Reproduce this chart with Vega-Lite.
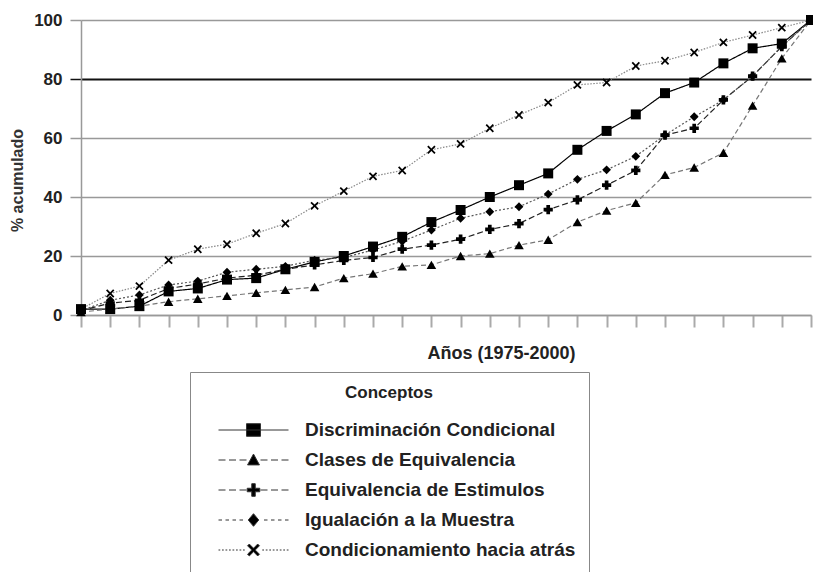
{
  "$schema": "https://vega.github.io/schema/vega-lite/v6.json",
  "width": 730,
  "height": 295,
  "autosize": "none",
  "padding": {"left": 81, "top": 20, "right": 2, "bottom": 257},
  "background": "white",
  "config": {"view": {"stroke": null}, "font": "Liberation Sans"},
  "data": {
    "values": [
      {"year": 1975, "Discriminación Condicional": 2, "Clases de Equivalencia": 1, "Equivalencia de Estimulos": 1.5, "Igualación a la Muestra": 1.5, "Condicionamiento hacia atrás": 2},
      {"year": 1976, "Discriminación Condicional": 2, "Clases de Equivalencia": 2, "Equivalencia de Estimulos": 4, "Igualación a la Muestra": 5, "Condicionamiento hacia atrás": 7.3},
      {"year": 1977, "Discriminación Condicional": 3, "Clases de Equivalencia": 3, "Equivalencia de Estimulos": 5, "Igualación a la Muestra": 6.8, "Condicionamiento hacia atrás": 9.8},
      {"year": 1978, "Discriminación Condicional": 8, "Clases de Equivalencia": 4.5, "Equivalencia de Estimulos": 9, "Igualación a la Muestra": 10.2, "Condicionamiento hacia atrás": 18.6},
      {"year": 1979, "Discriminación Condicional": 9, "Clases de Equivalencia": 5.5, "Equivalencia de Estimulos": 10.5, "Igualación a la Muestra": 11.5, "Condicionamiento hacia atrás": 22.3},
      {"year": 1980, "Discriminación Condicional": 12, "Clases de Equivalencia": 6.5, "Equivalencia de Estimulos": 12.5, "Igualación a la Muestra": 14.5, "Condicionamiento hacia atrás": 24},
      {"year": 1981, "Discriminación Condicional": 12.5, "Clases de Equivalencia": 7.5, "Equivalencia de Estimulos": 13.5, "Igualación a la Muestra": 15.5, "Condicionamiento hacia atrás": 27.7},
      {"year": 1982, "Discriminación Condicional": 15.5, "Clases de Equivalencia": 8.5, "Equivalencia de Estimulos": 15.5, "Igualación a la Muestra": 16.5, "Condicionamiento hacia atrás": 31},
      {"year": 1983, "Discriminación Condicional": 18, "Clases de Equivalencia": 9.5, "Equivalencia de Estimulos": 17, "Igualación a la Muestra": 18.6, "Condicionamiento hacia atrás": 37},
      {"year": 1984, "Discriminación Condicional": 20, "Clases de Equivalencia": 12.5, "Equivalencia de Estimulos": 18.5, "Igualación a la Muestra": 19.5, "Condicionamiento hacia atrás": 42},
      {"year": 1985, "Discriminación Condicional": 23.2, "Clases de Equivalencia": 14, "Equivalencia de Estimulos": 19.5, "Igualación a la Muestra": 22, "Condicionamiento hacia atrás": 47},
      {"year": 1986, "Discriminación Condicional": 26.5, "Clases de Equivalencia": 16.5, "Equivalencia de Estimulos": 22.3, "Igualación a la Muestra": 25, "Condicionamiento hacia atrás": 49},
      {"year": 1987, "Discriminación Condicional": 31.5, "Clases de Equivalencia": 17, "Equivalencia de Estimulos": 23.7, "Igualación a la Muestra": 28.8, "Condicionamiento hacia atrás": 56},
      {"year": 1988, "Discriminación Condicional": 35.6, "Clases de Equivalencia": 20, "Equivalencia de Estimulos": 25.7, "Igualación a la Muestra": 32.8, "Condicionamiento hacia atrás": 58},
      {"year": 1989, "Discriminación Condicional": 40, "Clases de Equivalencia": 20.8, "Equivalencia de Estimulos": 29, "Igualación a la Muestra": 35, "Condicionamiento hacia atrás": 63.3},
      {"year": 1990, "Discriminación Condicional": 44, "Clases de Equivalencia": 23.7, "Equivalencia de Estimulos": 31, "Igualación a la Muestra": 36.7, "Condicionamiento hacia atrás": 67.8},
      {"year": 1991, "Discriminación Condicional": 48, "Clases de Equivalencia": 25.5, "Equivalencia de Estimulos": 35.7, "Igualación a la Muestra": 41, "Condicionamiento hacia atrás": 72},
      {"year": 1992, "Discriminación Condicional": 56, "Clases de Equivalencia": 31.5, "Equivalencia de Estimulos": 39, "Igualación a la Muestra": 46, "Condicionamiento hacia atrás": 78},
      {"year": 1993, "Discriminación Condicional": 62.4, "Clases de Equivalencia": 35.4, "Equivalencia de Estimulos": 44, "Igualación a la Muestra": 49.2, "Condicionamiento hacia atrás": 78.8},
      {"year": 1994, "Discriminación Condicional": 68, "Clases de Equivalencia": 38, "Equivalencia de Estimulos": 49, "Igualación a la Muestra": 53.8, "Condicionamiento hacia atrás": 84.4},
      {"year": 1995, "Discriminación Condicional": 75.2, "Clases de Equivalencia": 47.5, "Equivalencia de Estimulos": 61, "Igualación a la Muestra": 61, "Condicionamiento hacia atrás": 86.2},
      {"year": 1996, "Discriminación Condicional": 78.8, "Clases de Equivalencia": 50, "Equivalencia de Estimulos": 63.3, "Igualación a la Muestra": 67.2, "Condicionamiento hacia atrás": 89},
      {"year": 1997, "Discriminación Condicional": 85.3, "Clases de Equivalencia": 55, "Equivalencia de Estimulos": 72.9, "Igualación a la Muestra": 72.9, "Condicionamiento hacia atrás": 92.4},
      {"year": 1998, "Discriminación Condicional": 90.4, "Clases de Equivalencia": 71, "Equivalencia de Estimulos": 81, "Igualación a la Muestra": 81, "Condicionamiento hacia atrás": 94.9},
      {"year": 1999, "Discriminación Condicional": 92, "Clases de Equivalencia": 87, "Equivalencia de Estimulos": 91, "Igualación a la Muestra": 91, "Condicionamiento hacia atrás": 97.4},
      {"year": 2000, "Discriminación Condicional": 100, "Clases de Equivalencia": 100, "Equivalencia de Estimulos": 100, "Igualación a la Muestra": 100, "Condicionamiento hacia atrás": 100}
    ]
  },
  "transform": [
    {"fold": ["Discriminación Condicional", "Clases de Equivalencia", "Equivalencia de Estimulos", "Igualación a la Muestra", "Condicionamiento hacia atrás"], "as": ["serie", "pct"]}
  ],
  "layer": [
    {
      "mark": {"type": "line", "strokeWidth": 1.2},
      "encoding": {
        "x": {
          "field": "year", "type": "quantitative",
          "scale": {"domain": [1975, 2000], "nice": false, "zero": false},
          "axis": {
            "title": "Años (1975-2000)",
            "values": [1975, 1976, 1977, 1978, 1979, 1980, 1981, 1982, 1983, 1984, 1985, 1986, 1987, 1988, 1989, 1990, 1991, 1992, 1993, 1994, 1995, 1996, 1997, 1998, 1999, 2000],
            "tickCount": 40,
            "labels": false, "grid": false,
            "tickColor": "#aaa", "tickSize": 12, "tickWidth": 2,
            "domainColor": "#999", "domainWidth": 1.5,
            "titleFontSize": 18, "titleFontWeight": "bold", "titleColor": "#222",
            "titleX": 420, "titleY": 43, "titleBaseline": "alphabetic"
          }
        },
        "y": {
          "field": "pct", "type": "quantitative",
          "scale": {"domain": [0, 100], "nice": false},
          "axis": {
            "title": "% acumulado",
            "values": [0, 20, 40, 60, 80, 100],
            "grid": true,
            "gridColor": {"condition": {"test": "datum.value === 80", "value": "#111"}, "value": "#999"},
            "gridWidth": {"condition": {"test": "datum.value === 80", "value": 2}, "value": 1.5},
            "tickColor": {"condition": {"test": "datum.value === 80", "value": "#111"}, "value": "#999"},
            "tickSize": 11, "tickWidth": 1.5,
            "domainColor": "#999", "domainWidth": 1.5,
            "labelFontSize": 17, "labelFontWeight": "bold", "labelColor": "#222", "labelPadding": 8,
            "titleFontSize": 16, "titleFontWeight": "bold", "titleColor": "#333",
            "titleX": -64, "titleY": 160, "titleBaseline": "middle"
          }
        },
        "color": {
          "field": "serie", "type": "nominal",
          "scale": {"domain": ["Discriminación Condicional", "Clases de Equivalencia", "Equivalencia de Estimulos", "Igualación a la Muestra", "Condicionamiento hacia atrás"], "range": ["#000000", "#777777", "#222222", "#555555", "#888888"]},
          "legend": null
        },
        "strokeDash": {
          "field": "serie", "type": "nominal",
          "scale": {"domain": ["Discriminación Condicional", "Clases de Equivalencia", "Equivalencia de Estimulos", "Igualación a la Muestra", "Condicionamiento hacia atrás"], "range": [[1, 0], [5, 3], [6, 3], [2, 2], [1.5, 1.5]]},
          "legend": null
        }
      }
    },
    {
      "mark": {"type": "point", "filled": true, "opacity": 1, "color": "black"},
      "encoding": {
        "x": {"field": "year", "type": "quantitative"},
        "y": {"field": "pct", "type": "quantitative"},
        "shape": {
          "field": "serie", "type": "nominal",
          "scale": {"domain": ["Discriminación Condicional", "Clases de Equivalencia", "Equivalencia de Estimulos", "Igualación a la Muestra", "Condicionamiento hacia atrás"], "range": ["square", "triangle-up", "cross", "diamond", "M-1,-0.7L-0.7,-1L0,-0.3L0.7,-1L1,-0.7L0.3,0L1,0.7L0.7,1L0,0.3L-0.7,1L-1,0.7L-0.3,0Z"]},
          "legend": null
        },
        "size": {
          "field": "serie", "type": "nominal",
          "scale": {"domain": ["Discriminación Condicional", "Clases de Equivalencia", "Equivalencia de Estimulos", "Igualación a la Muestra", "Condicionamiento hacia atrás"], "range": [100, 70, 90, 70, 80]},
          "legend": null
        }
      }
    },
    {
      "mark": {"type": "point", "filled": true, "fill": "black", "stroke": "#333", "strokeWidth": 1, "opacity": 0},
      "encoding": {
        "x": {"field": "year", "type": "quantitative"},
        "y": {"field": "pct", "type": "quantitative"},
        "shape": {
          "field": "serie", "type": "nominal",
          "scale": {"domain": ["Discriminación Condicional", "Clases de Equivalencia", "Equivalencia de Estimulos", "Igualación a la Muestra", "Condicionamiento hacia atrás"], "range": [
            "M-1,0L1,0M-0.2,-0.18L0.2,-0.18L0.2,0.18L-0.2,0.18Z",
            "M-1,0L-0.8,0M-0.7,0L-0.5,0M-0.4,0L-0.2,0M0.2,0L0.4,0M0.5,0L0.7,0M0.8,0L1,0M0,-0.17L0.17,0.14L-0.17,0.14Z",
            "M-1,0L-0.8,0M-0.7,0L-0.5,0M-0.4,0L-0.2,0M0.2,0L0.4,0M0.5,0L0.7,0M0.8,0L1,0M-0.05,-0.18L0.05,-0.18L0.05,-0.05L0.18,-0.05L0.18,0.05L0.05,0.05L0.05,0.18L-0.05,0.18L-0.05,0.05L-0.18,0.05L-0.18,-0.05L-0.05,-0.05Z",
            "M-1,0L-0.9,0M-0.8,0L-0.7,0M-0.6,0L-0.5,0M-0.4,0L-0.3,0M0.3,0L0.4,0M0.5,0L0.6,0M0.7,0L0.8,0M0.9,0L1,0M0,-0.18L0.15,0L0,0.18L-0.15,0Z",
            "M-1,0L-0.95,0M-0.9,0L-0.85,0M-0.8,0L-0.75,0M-0.7,0L-0.65,0M-0.6,0L-0.55,0M-0.5,0L-0.45,0M-0.4,0L-0.35,0M-0.3,0L-0.25,0M0.25,0L0.3,0M0.35,0L0.4,0M0.45,0L0.5,0M0.55,0L0.6,0M0.65,0L0.7,0M0.75,0L0.8,0M0.85,0L0.9,0M0.95,0L1,0M-0.17,-0.12L-0.12,-0.17L0,-0.05L0.12,-0.17L0.17,-0.12L0.05,0L0.17,0.12L0.12,0.17L0,0.05L-0.12,0.17L-0.17,0.12L-0.05,0Z"
          ]},
          "legend": {
            "title": "Conceptos",
            "orient": "none", "legendX": 109, "legendY": 352,
            "direction": "vertical",
            "padding": 13, "strokeColor": "#888", "fillColor": "white",
            "symbolSize": 4900, "symbolOffset": 15, "labelOffset": 16,
            "symbolStrokeWidth": 1, "symbolOpacity": 1,
            "clipHeight": 16, "rowPadding": 11, "titlePadding": 20,
            "titleAnchor": "middle", "titleFontSize": 17, "titleFontWeight": "bold", "titleColor": "#222",
            "labelFontSize": 19, "labelFontWeight": "bold", "labelColor": "#222", "labelLimit": 400
          }
        }
      }
    }
  ],
  "resolve": {"scale": {"shape": "independent"}}
}
